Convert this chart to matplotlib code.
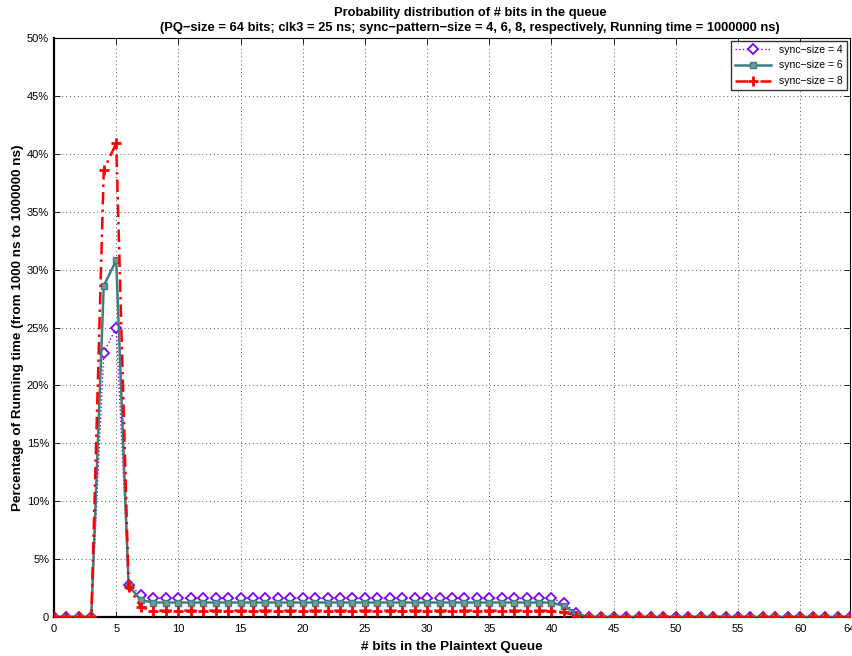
import numpy as np
import matplotlib
matplotlib.use("Agg")
import matplotlib.pyplot as plt
from matplotlib.ticker import FuncFormatter

plt.rcParams['font.family'] = ['Liberation Sans', 'DejaVu Sans']

x = list(range(65))
flat4, flat6, flat8 = 1.6, 1.25, 0.55
sync4 = [0, 0, 0, 0, 22.8, 25.0, 2.8, 1.9] + [flat4] * 33 + [1.2, 0.35] + [0] * 22
sync6 = [0, 0, 0, 0, 28.6, 30.8, 2.7, 1.45] + [flat6] * 33 + [0.95, 0.3] + [0] * 22
sync8 = [0, 0, 0, 0, 38.6, 40.9, 2.6, 0.85] + [flat8] * 33 + [0.4, 0.1] + [0] * 22
labels = ['sync\u2212size = 4', 'sync\u2212size = 6', 'sync\u2212size = 8']
xticks = [0, 5, 10, 15, 20, 25, 30, 35, 40, 45, 50, 55, 60, 64]
yticks = [0, 5, 10, 15, 20, 25, 30, 35, 40, 45, 50]

fig = plt.figure(figsize=(8.53, 6.56), dpi=100)
ax = fig.add_axes([54/853, 1 - 617/656, (850-54)/853, (617-38)/656])

ax.plot(x, sync4, color='#8000ff', linestyle=':', linewidth=1.0, marker='D',
        markersize=5, markerfacecolor='white', markeredgecolor='#8000ff',
        markeredgewidth=1.3, label=labels[0], zorder=3)
ax.plot(x, sync6, color='#3f7f7f', linestyle='-', linewidth=1.8, marker='s',
        markersize=5, markerfacecolor='#6a9a9a', markeredgecolor='#3f7f7f',
        markeredgewidth=1.0, label=labels[1], zorder=4)
ax.plot(x, sync8, color='#ff0000', linestyle=(0, (5, 2, 1, 2)), linewidth=1.8,
        marker='+', markersize=7, markeredgewidth=2.0, label=labels[2], zorder=5)

ax.set_xlim(0, 64)
ax.set_ylim(0, 50)
ax.set_xticks(xticks)
ax.set_yticks(yticks)
ax.yaxis.set_major_formatter(FuncFormatter(lambda v, p: '0' if v == 0 else f'{int(v)}%'))
ax.tick_params(direction='in', labelsize=8, top=True, right=True, length=4, width=0.6)
ax.tick_params(axis='x', pad=5)
ax.grid(True, linestyle=(0, (1, 3)), color='#555555', linewidth=0.7)
for s in ax.spines.values():
    s.set_linewidth(0.8)
ax.spines['left'].set_linewidth(1.6)
ax.spines['bottom'].set_linewidth(1.6)

ax.set_xlabel('# bits in the Plaintext Queue', fontsize=9.7, fontweight='bold', labelpad=5)
ax.set_ylabel('Percentage of Running time (from 1000 ns to 1000000 ns)', fontsize=9.7,
              fontweight='bold', labelpad=2)
ax.set_title('Probability distribution of # bits in the queue\n'
             '(PQ\u2212size = 64 bits; clk3 = 25 ns; sync\u2212pattern\u2212size = 4, 6, 8, '
             'respectively, Running time = 1000000 ns)',
             fontsize=9.3, fontweight='bold', pad=5, linespacing=1.3, x=0.523)

leg = ax.legend(loc='upper right', fontsize=7.5, frameon=True, fancybox=False,
                edgecolor='black', borderaxespad=0.25, handlelength=3.5,
                borderpad=0.4, labelspacing=0.55)
leg.get_frame().set_linewidth(1.0)

fig.savefig('out.png', dpi=100)
